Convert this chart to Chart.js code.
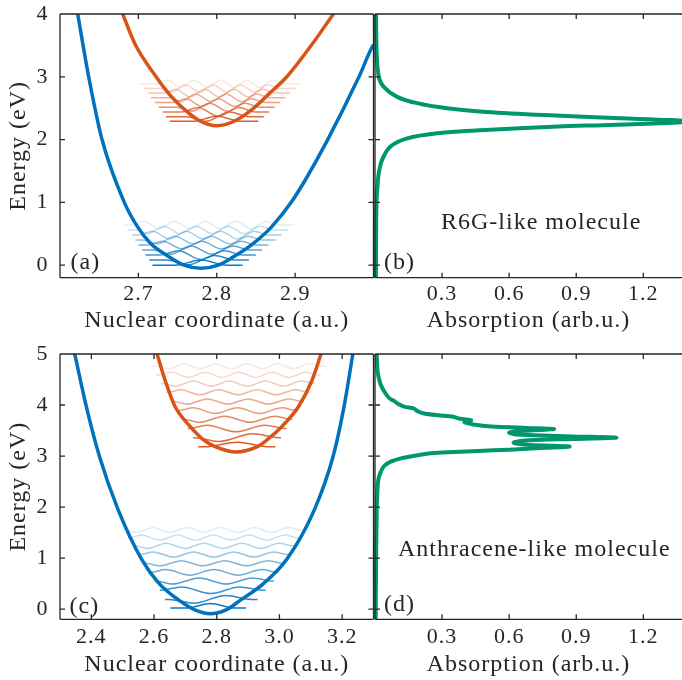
<!DOCTYPE html>
<html><head><meta charset="utf-8">
<script src="https://cdn.jsdelivr.net/npm/chart.js@4/dist/chart.umd.min.js"></script>
<style>
html,body{margin:0;padding:0;background:#fff;overflow:hidden;}
#wrap{position:relative;width:682px;height:680px;background:#fff;}
canvas{position:absolute;}
.lbl{position:absolute;font-family:"Liberation Serif","Times New Roman",serif;font-size:24px;color:#262626;letter-spacing:1px;white-space:nowrap;line-height:1;}
</style></head><body>
<div id="wrap">
<canvas id="ca" width="377" height="340" style="left:0;top:0"></canvas>
<canvas id="cb" width="310" height="340" style="left:372px;top:0"></canvas>
<canvas id="cc" width="377" height="340" style="left:0;top:340px"></canvas>
<canvas id="cd" width="310" height="340" style="left:372px;top:340px"></canvas>
<div class="lbl" style="left:70.5px;top:249px">(a)</div>
<div class="lbl" style="left:384px;top:249px">(b)</div>
<div class="lbl" style="left:69.5px;top:593px">(c)</div>
<div class="lbl" style="left:384px;top:591px">(d)</div>
<div class="lbl" style="left:441px;top:209px">R6G-like molecule</div>
<div class="lbl" style="left:398px;top:536px">Anthracene-like molecule</div>
</div>
<script>
// ---------------- DATA ----------------
const xTicksA = [2.7, 2.8, 2.9];
const xTicksC = [2.4, 2.6, 2.8, 3.0, 3.2];
const xTicksAbs = [0.3, 0.6, 0.9, 1.2];
const yTicksAB = [0, 1, 2, 3, 4];
const yTicksCD = [0, 1, 2, 3, 4, 5];

// Panel (a): potential energy curves
const aBlueX = [2.6184, 2.6226, 2.6366, 2.6536, 2.682, 2.699, 2.716, 2.7396, 2.758, 2.78, 2.802, 2.821, 2.846, 2.870, 2.895, 2.915, 2.9416, 2.9815, 3.0, 3.01];
const aBlueY = [4.3, 4.0, 3.0, 2.0, 1.0, 0.61, 0.34, 0.13, 0.0, -0.05, 0.0, 0.13, 0.34, 0.61, 1.0, 1.4, 2.0, 3.0, 3.51, 3.62];
const aOrangeX = [2.6703, 2.68, 2.6962, 2.7226, 2.7396, 2.7609, 2.778, 2.80, 2.8236, 2.8427, 2.866, 2.8894, 2.9212, 2.9488, 2.9657];
const aOrangeY = [4.3, 4.0, 3.51, 3.0, 2.72, 2.456, 2.30, 2.22, 2.30, 2.456, 2.72, 3.0, 3.51, 4.0, 4.3];

// Panel (a): vibrational wavefunction traces [x, E]
const aBlueLevels = [
 [[2.718,0],[2.747,0],[2.780,0.08],[2.813,0],[2.833,0]],
 [[2.714,0.08],[2.737,0.08],[2.764,0.005],[2.797,0.155],[2.824,0.08],[2.841,0.08]],
 [[2.709,0.16],[2.727,0.16],[2.751,0.23],[2.780,0.09],[2.810,0.23],[2.833,0.16],[2.850,0.16]],
 [[2.705,0.24],[2.719,0.24],[2.741,0.175],[2.767,0.305],[2.794,0.175],[2.821,0.305],[2.842,0.24],[2.858,0.24]],
 [[2.700,0.32],[2.711,0.32],[2.731,0.38],[2.756,0.26],[2.781,0.38],[2.806,0.26],[2.831,0.38],[2.851,0.32],[2.866,0.32]],
 [[2.696,0.40],[2.705,0.40],[2.724,0.34],[2.747,0.46],[2.770,0.34],[2.793,0.46],[2.817,0.34],[2.840,0.46],[2.858,0.40],[2.875,0.40]],
 [[2.692,0.48],[2.701,0.48],[2.718,0.54],[2.740,0.42],[2.761,0.54],[2.783,0.42],[2.805,0.54],[2.826,0.42],[2.848,0.54],[2.865,0.48],[2.883,0.48]],
 [[2.687,0.56],[2.696,0.56],[2.712,0.50],[2.733,0.62],[2.753,0.50],[2.774,0.62],[2.794,0.50],[2.815,0.62],[2.835,0.50],[2.855,0.62],[2.872,0.56],[2.891,0.56]],
 [[2.683,0.64],[2.691,0.64],[2.707,0.70],[2.726,0.58],[2.746,0.70],[2.766,0.58],[2.785,0.70],[2.805,0.58],[2.824,0.70],[2.844,0.58],[2.863,0.70],[2.879,0.64],[2.899,0.64]]
];
const aOrangeLevels = [
 [[2.740,2.29],[2.769,2.29],[2.800,2.37],[2.832,2.29],[2.853,2.29]],
 [[2.735,2.365],[2.762,2.365],[2.786,2.29],[2.816,2.44],[2.841,2.365],[2.860,2.365]],
 [[2.731,2.44],[2.755,2.44],[2.776,2.51],[2.802,2.37],[2.828,2.51],[2.849,2.44],[2.867,2.44]],
 [[2.726,2.515],[2.749,2.515],[2.768,2.45],[2.791,2.58],[2.814,2.45],[2.836,2.58],[2.855,2.515],[2.874,2.515]],
 [[2.721,2.59],[2.744,2.59],[2.761,2.65],[2.781,2.53],[2.802,2.65],[2.823,2.53],[2.844,2.65],[2.861,2.59],[2.881,2.59]],
 [[2.716,2.665],[2.738,2.665],[2.754,2.605],[2.773,2.725],[2.793,2.605],[2.812,2.725],[2.832,2.605],[2.851,2.725],[2.867,2.665],[2.888,2.665]],
 [[2.712,2.74],[2.733,2.74],[2.748,2.80],[2.766,2.68],[2.785,2.80],[2.803,2.68],[2.822,2.80],[2.840,2.68],[2.859,2.80],[2.873,2.74],[2.894,2.74]],
 [[2.707,2.815],[2.729,2.815],[2.743,2.755],[2.760,2.875],[2.778,2.755],[2.795,2.875],[2.813,2.755],[2.830,2.875],[2.848,2.755],[2.865,2.875],[2.879,2.815],[2.901,2.815]],
 [[2.702,2.89],[2.724,2.89],[2.738,2.95],[2.754,2.83],[2.771,2.95],[2.788,2.83],[2.805,2.95],[2.822,2.83],[2.838,2.95],[2.855,2.83],[2.872,2.95],[2.885,2.89],[2.908,2.89]]
];

// Panel (c): potential energy curves
const cBlueX = [2.336, 2.347, 2.384, 2.426, 2.484, 2.560, 2.615, 2.678, 2.732, 2.780, 2.828, 2.877, 2.951, 3.024, 3.113, 3.171, 3.206, 3.234, 3.242];
const cBlueY = [5.3, 5.0, 3.97, 2.99, 1.97, 0.98, 0.51, 0.18, -0.02, -0.09, -0.02, 0.18, 0.51, 0.98, 1.97, 2.99, 3.97, 5.0, 5.3];
const cOrangeX = [2.5948, 2.6097, 2.636, 2.667, 2.715, 2.757, 2.793, 2.862, 2.931, 2.961, 3.008, 3.061, 3.103, 3.132, 3.149];
const cOrangeY = [5.3, 5.0, 4.47, 3.97, 3.58, 3.32, 3.19, 3.08, 3.19, 3.32, 3.58, 3.97, 4.47, 4.99, 5.3];

// Panel (c): vibrational wavefunction traces
const cBlueLevels = [
 [[2.652,0.02],[2.703,0.02],[2.780,0.11],[2.857,0.02],[2.893,0.02]],
 [[2.635,0.19],[2.646,0.19],[2.727,0.115],[2.828,0.265],[2.910,0.19],[2.930,0.19]],
 [[2.618,0.37],[2.622,0.37],[2.688,0.435],[2.781,0.305],[2.873,0.435],[2.947,0.37],[2.956,0.37]],
 [[2.601,0.55],[2.605,0.55],[2.659,0.49],[2.744,0.61],[2.829,0.49],[2.915,0.61],[2.978,0.55],[2.982,0.55]],
 [[2.584,0.72],[2.588,0.72],[2.637,0.775],[2.714,0.665],[2.791,0.775],[2.868,0.665],[2.945,0.775],[2.994,0.72],[2.998,0.72]],
 [[2.568,0.90],[2.572,0.90],[2.618,0.85],[2.687,0.95],[2.756,0.85],[2.826,0.95],[2.895,0.85],[2.964,0.95],[3.010,0.90],[3.014,0.90]],
 [[2.551,1.07],[2.555,1.07],[2.598,1.12],[2.662,1.02],[2.726,1.12],[2.790,1.02],[2.854,1.12],[2.918,1.02],[2.982,1.12],[3.025,1.07],[3.029,1.07]],
 [[2.534,1.24],[2.538,1.24],[2.579,1.19],[2.639,1.29],[2.699,1.19],[2.759,1.29],[2.820,1.19],[2.880,1.29],[2.940,1.19],[3.000,1.29],[3.041,1.24],[3.045,1.24]],
 [[2.517,1.40],[2.521,1.40],[2.561,1.45],[2.618,1.35],[2.675,1.45],[2.732,1.35],[2.789,1.45],[2.846,1.35],[2.903,1.45],[2.960,1.35],[3.018,1.45],[3.057,1.40],[3.061,1.40]],
 [[2.500,1.55],[2.504,1.55],[2.543,1.50],[2.597,1.60],[2.651,1.50],[2.705,1.60],[2.759,1.50],[2.813,1.60],[2.867,1.50],[2.921,1.60],[2.975,1.50],[3.029,1.60],[3.067,1.55],[3.071,1.55]]
];
const cOrangeLevels = [
 [[2.741,3.18],[2.762,3.18],[2.865,3.27],[2.968,3.18],[2.987,3.18]],
 [[2.724,3.36],[2.728,3.36],[2.805,3.285],[2.914,3.435],[3.001,3.36],[3.005,3.36]],
 [[2.707,3.54],[2.711,3.54],[2.769,3.605],[2.861,3.475],[2.954,3.605],[3.019,3.54],[3.023,3.54]],
 [[2.690,3.72],[2.694,3.72],[2.745,3.66],[2.825,3.78],[2.906,3.66],[2.986,3.78],[3.037,3.72],[3.041,3.72]],
 [[2.673,3.89],[2.677,3.89],[2.724,3.945],[2.795,3.835],[2.866,3.945],[2.937,3.835],[3.008,3.945],[3.055,3.89],[3.059,3.89]],
 [[2.657,4.07],[2.661,4.07],[2.705,4.02],[2.770,4.12],[2.835,4.02],[2.900,4.12],[2.965,4.02],[3.030,4.12],[3.074,4.07],[3.078,4.07]],
 [[2.640,4.25],[2.644,4.25],[2.685,4.30],[2.746,4.20],[2.807,4.30],[2.868,4.20],[2.929,4.30],[2.990,4.20],[3.051,4.30],[3.092,4.25],[3.096,4.25]],
 [[2.623,4.42],[2.627,4.42],[2.668,4.37],[2.725,4.47],[2.783,4.37],[2.840,4.47],[2.898,4.37],[2.955,4.47],[3.013,4.37],[3.070,4.47],[3.110,4.42],[3.114,4.42]],
 [[2.606,4.59],[2.614,4.59],[2.657,4.64],[2.710,4.54],[2.763,4.64],[2.817,4.54],[2.870,4.64],[2.923,4.54],[2.977,4.64],[3.030,4.54],[3.083,4.64],[3.126,4.59],[3.132,4.59]],
 [[2.589,4.76],[2.607,4.76],[2.647,4.71],[2.696,4.81],[2.746,4.71],[2.796,4.81],[2.846,4.71],[2.895,4.81],[2.945,4.71],[2.995,4.81],[3.045,4.71],[3.094,4.81],[3.134,4.76],[3.150,4.76]]
];

// Panel (b): R6G-like absorption spectrum
const bEnergy = [-0.3, 0.5, 1.04, 1.30, 1.47, 1.68, 1.89, 2.02, 2.10, 2.15, 2.21, 2.23, 2.26, 2.287, 2.31, 2.34, 2.39, 2.44, 2.50, 2.58, 2.68, 2.84, 3.00, 3.42, 4.3];
const bAbsorb = [0.004, 0.005, 0.007, 0.012, 0.017, 0.032, 0.069, 0.144, 0.278, 0.471, 0.82, 1.02, 1.28, 1.40, 1.32, 1.10, 0.76, 0.501, 0.322, 0.188, 0.099, 0.039, 0.017, 0.007, 0.004];

// Panel (d): anthracene-like absorption spectrum
const dEnergy = [-0.3, 1.0, 2.0, 2.34, 2.54, 2.67, 2.80, 2.89, 2.96, 3.00, 3.05, 3.07, 3.10, 3.125, 3.16, 3.185, 3.20, 3.22, 3.26, 3.30, 3.335, 3.36, 3.385, 3.42, 3.46, 3.49, 3.515, 3.53, 3.55, 3.58, 3.62, 3.66, 3.70, 3.73, 3.77, 3.80, 3.84, 3.88, 3.93, 3.97, 4.03, 4.08, 4.13, 4.24, 4.43, 4.69, 5.3];
const dAbsorb = [0.003, 0.005, 0.008, 0.011, 0.015, 0.024, 0.040, 0.070, 0.12, 0.17, 0.24, 0.30, 0.46, 0.60, 0.76, 0.87, 0.80, 0.68, 0.62, 0.66, 0.88, 1.08, 0.88, 0.64, 0.60, 0.65, 0.76, 0.80, 0.68, 0.52, 0.44, 0.40, 0.43, 0.38, 0.35, 0.28, 0.215, 0.19, 0.175, 0.13, 0.10, 0.085, 0.065, 0.045, 0.023, 0.011, 0.006];

// ---------------- STYLE / BUILD ----------------
const FONT = '"Liberation Serif","Times New Roman",serif';
const INK = '#262626';
const BLUE = '0,114,189', ORANGE = '217,83,25', GREEN = '#00976F';
Chart.defaults.animation = false;
Chart.defaults.font.family = FONT;
Chart.defaults.color = INK;

const xy = (xs, ys) => xs.map((x, i) => ({x: x, y: ys[i]}));
const pairs = arr => arr.map(p => ({x: p[0], y: p[1]}));

function curveDS(data, color, width) {
  return {data, borderColor: color, borderWidth: width, pointRadius: 0, fill: false, clip: 0,
          cubicInterpolationMode: 'monotone'};
}
function levelDS(levels, rgb) {
  const n = levels.length;
  return levels.map((lv, i) => ({
    data: pairs(lv), borderColor: 'rgba(' + rgb + ',' + (0.95 - 0.82 * i / (n - 1)).toFixed(3) + ')',
    borderWidth: 1.5, pointRadius: 0, fill: false, clip: 0, cubicInterpolationMode: 'monotone'
  }));
}
function specDS(data) {
  return {data, borderColor: GREEN, borderWidth: 4, pointRadius: 0, fill: false,
          clip: {left: 3, top: 0, right: 0, bottom: 0}, tension: 0.3};
}

const boxPlugin = {
  id: 'box',
  beforeUpdate(chart) { chart.ctx.letterSpacing = '1px'; },
  beforeDraw(chart) { chart.ctx.letterSpacing = '1px'; },
  afterDatasetsDraw(chart, args, o) {
    const {ctx, chartArea: a, scales} = chart;
    const x = scales.x, y = scales.y;
    ctx.save();
    ctx.strokeStyle = INK; ctx.lineWidth = 1.3;
    ctx.beginPath();
    ctx.moveTo(a.left, a.top); ctx.lineTo(a.right, a.top);
    ctx.moveTo(a.left, a.bottom); ctx.lineTo(a.right, a.bottom);
    ctx.moveTo(a.left, a.top); ctx.lineTo(a.left, a.bottom);
    if (o.right) { ctx.moveTo(a.right, a.top); ctx.lineTo(a.right, a.bottom); }
    const L = 5;
    x.ticks.forEach(t => { const p = x.getPixelForValue(t.value);
      ctx.moveTo(p, a.bottom); ctx.lineTo(p, a.bottom - L); ctx.moveTo(p, a.top); ctx.lineTo(p, a.top + L); });
    y.ticks.forEach(t => { const p = y.getPixelForValue(t.value);
      ctx.moveTo(a.left, p); ctx.lineTo(a.left + L, p);
      if (o.right) { ctx.moveTo(a.right, p); ctx.lineTo(a.right - L, p); } });
    ctx.stroke();
    ctx.restore();
  }
};

function xScale(min, max, ticks, title, h, tickPad, titlePad) {
  return {
    type: 'linear', min, max,
    afterBuildTicks: s => { s.ticks = ticks.map(v => ({value: v})); },
    afterFit: s => { s.height = h; s.paddingLeft = 0; s.paddingRight = 0; },
    grid: {display: false, drawTicks: false, tickLength: 0}, border: {display: false},
    ticks: {callback: v => Number(v).toFixed(1), font: {family: FONT, size: 22}, color: INK,
            padding: tickPad, maxRotation: 0, autoSkip: false},
    title: {display: true, text: title, font: {family: FONT, size: 24}, color: INK,
            padding: {top: 0, bottom: titlePad}}
  };
}
function yScale(min, max, ticks, showLabels, w) {
  return {
    type: 'linear', min, max,
    afterBuildTicks: s => { s.ticks = ticks.map(v => ({value: v})); },
    afterFit: s => { s.width = w; s.paddingTop = 0; s.paddingBottom = 0; },
    grid: {display: false, drawTicks: false, tickLength: 0}, border: {display: false},
    ticks: {display: showLabels, font: {family: FONT, size: 22}, color: INK, padding: 11.5,
            callback: v => String(v)},
    title: {display: showLabels, text: 'Energy (eV)', font: {family: FONT, size: 24}, color: INK,
            padding: {top: 4.6, bottom: 0}}
  };
}

function makeChart(id, datasets, xs, ys, padding, right) {
  return new Chart(document.getElementById(id), {
    type: 'line',
    data: {datasets},
    options: {
      responsive: false, animation: false, events: [],
      layout: {padding},
      plugins: {legend: {display: false}, tooltip: {enabled: false}, box: {right}},
      scales: {x: xs, y: ys}
    },
    plugins: [boxPlugin]
  });
}

makeChart('ca',
  [curveDS(xy(aBlueX, aBlueY), 'rgb(' + BLUE + ')', 3.5),
   curveDS(xy(aOrangeX, aOrangeY), 'rgb(' + ORANGE + ')', 3.5),
   ...levelDS(aBlueLevels, BLUE), ...levelDS(aOrangeLevels, ORANGE)],
  xScale(2.6, 3.0, xTicksA, 'Nuclear coordinate (a.u.)', 62.3, 3.6, 4.6),
  yScale(-0.2, 4, yTicksAB, true, 60),
  {left: 0, top: 14, right: 3.5, bottom: 0}, true);

makeChart('cb',
  [specDS(xy(bAbsorb, bEnergy))],
  xScale(0, 1.373, xTicksAbs, 'Absorption (arb.u.)', 62.3, 3.6, 4.6),
  yScale(-0.2, 4, yTicksAB, false, 0),
  {left: 3, top: 14, right: 0, bottom: 0}, false);

makeChart('cc',
  [curveDS(xy(cBlueX, cBlueY), 'rgb(' + BLUE + ')', 3.5),
   curveDS(xy(cOrangeX, cOrangeY), 'rgb(' + ORANGE + ')', 3.5),
   ...levelDS(cBlueLevels, BLUE), ...levelDS(cOrangeLevels, ORANGE)],
  xScale(2.3, 3.3, xTicksC, 'Nuclear coordinate (a.u.)', 60.7, 5.0, 1.1),
  yScale(-0.2, 5, yTicksCD, true, 60),
  {left: 0, top: 14, right: 3.5, bottom: 0}, true);

makeChart('cd',
  [specDS(xy(dAbsorb, dEnergy))],
  xScale(0, 1.373, xTicksAbs, 'Absorption (arb.u.)', 60.7, 5.0, 1.1),
  yScale(-0.2, 5, yTicksCD, false, 0),
  {left: 3, top: 14, right: 0, bottom: 0}, false);
</script>
</body></html>
